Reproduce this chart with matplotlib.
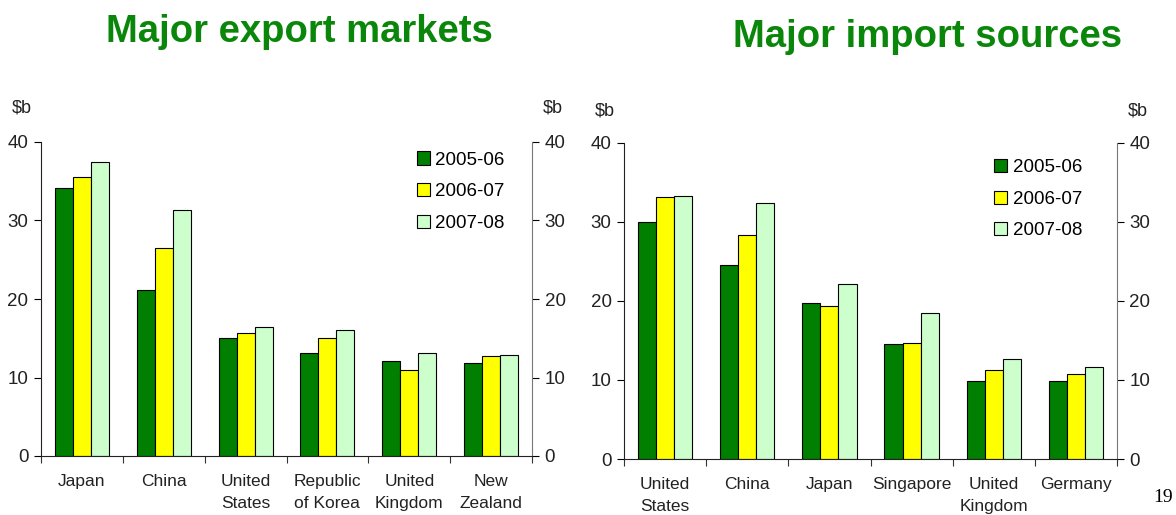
import matplotlib
matplotlib.use('Agg')
import matplotlib.pyplot as plt
import numpy as np

plt.rc('font', family='Liberation Sans')

# data
years = ['2005-06', '2006-07', '2007-08']

exp_countries = ['Japan', 'China', 'United\nStates', 'Republic\nof Korea', 'United\nKingdom', 'New\nZealand']
exp_0506 = [34.2, 21.2, 15.0, 13.1, 12.1, 11.9]
exp_0607 = [35.6, 26.5, 15.7, 15.0, 11.0, 12.8]
exp_0708 = [37.5, 31.4, 16.4, 16.0, 13.1, 12.9]

imp_countries = ['United\nStates', 'China', 'Japan', 'Singapore', 'United\nKingdom', 'Germany']
imp_0506 = [30.0, 24.5, 19.7, 14.6, 9.9, 9.9]
imp_0607 = [33.2, 28.4, 19.4, 14.7, 11.3, 10.8]
imp_0708 = [33.3, 32.4, 22.2, 18.5, 12.6, 11.7]

colors = ['#007F00', '#FFFF00', '#CCFFCC']
W, H = 1176, 515


def draw(ax, cats, series, leg_xy):
    x = np.arange(len(cats))
    bw = 0.22
    for i, (vals, c, lab) in enumerate(zip(series, colors, years)):
        ax.bar(x + (i - 1) * bw, vals, width=bw, color=c, edgecolor='black',
               linewidth=0.8, label=lab, zorder=2)
    ax.set_xlim(-0.5, len(cats) - 0.5)
    ax.set_ylim(0, 40)
    ax.set_yticks([0, 10, 20, 30, 40])
    # tick marks at group boundaries, labels at centres
    ax.set_xticks(np.arange(len(cats) + 1) - 0.5)
    ax.set_xticklabels([])
    ax.set_xticks(x, minor=True)
    ax.set_xticklabels(cats, minor=True, linespacing=1.6)
    ax.tick_params(axis='x', which='minor', length=0, pad=13, labelsize=12.5, labelcolor='#222222')
    ax.tick_params(axis='x', which='major', length=5, direction='out', color='#333333')
    ax.tick_params(axis='y', length=5, direction='out', labelsize=13.5, labelcolor='#222222',
                   left=True, right=True, labelleft=True, labelright=True, pad=4)
    ax.spines['top'].set_visible(False)
    ax.spines['left'].set_color('#222222')
    ax.spines['bottom'].set_color('#222222')
    ax.spines['right'].set_color('#777777')
    ax.legend(loc='upper left', bbox_to_anchor=leg_xy, frameon=False, fontsize=13.5,
              handlelength=0.7, handleheight=0.7, handletextpad=0.3,
              labelspacing=0.78, borderaxespad=0, borderpad=0)


fig = plt.figure(figsize=(W / 100, H / 100), dpi=100)
ax1 = fig.add_axes([41 / W, (H - 456) / H, 491 / W, 314 / H])
ax2 = fig.add_axes([624 / W, (H - 459) / H, 493 / W, 316 / H])

draw(ax1, exp_countries, [exp_0506, exp_0607, exp_0708], (0.765, 0.97))
draw(ax2, imp_countries, [imp_0506, imp_0607, imp_0708], (0.75, 0.95))

title_kw = dict(fontsize=27.5, fontweight='bold', color='#0A870A', ha='center', va='center')
fig.text(299 / W, 1 - 32 / H, 'Major export markets', **title_kw)
fig.text(928 / W, 1 - 37 / H, 'Major import sources', **title_kw)

lab_kw = dict(fontsize=13, color='#222222', ha='center', va='center')
fig.text(22 / W, 1 - 108 / H, '$b', **lab_kw)
fig.text(553 / W, 1 - 108 / H, '$b', **lab_kw)
fig.text(605 / W, 1 - 111 / H, '$b', **lab_kw)
fig.text(1138 / W, 1 - 111 / H, '$b', **lab_kw)
fig.text(1163 / W, 1 - 498 / H, '19', fontsize=14, family='Liberation Serif',
         ha='center', va='center')

fig.savefig('out.png', dpi=100)
